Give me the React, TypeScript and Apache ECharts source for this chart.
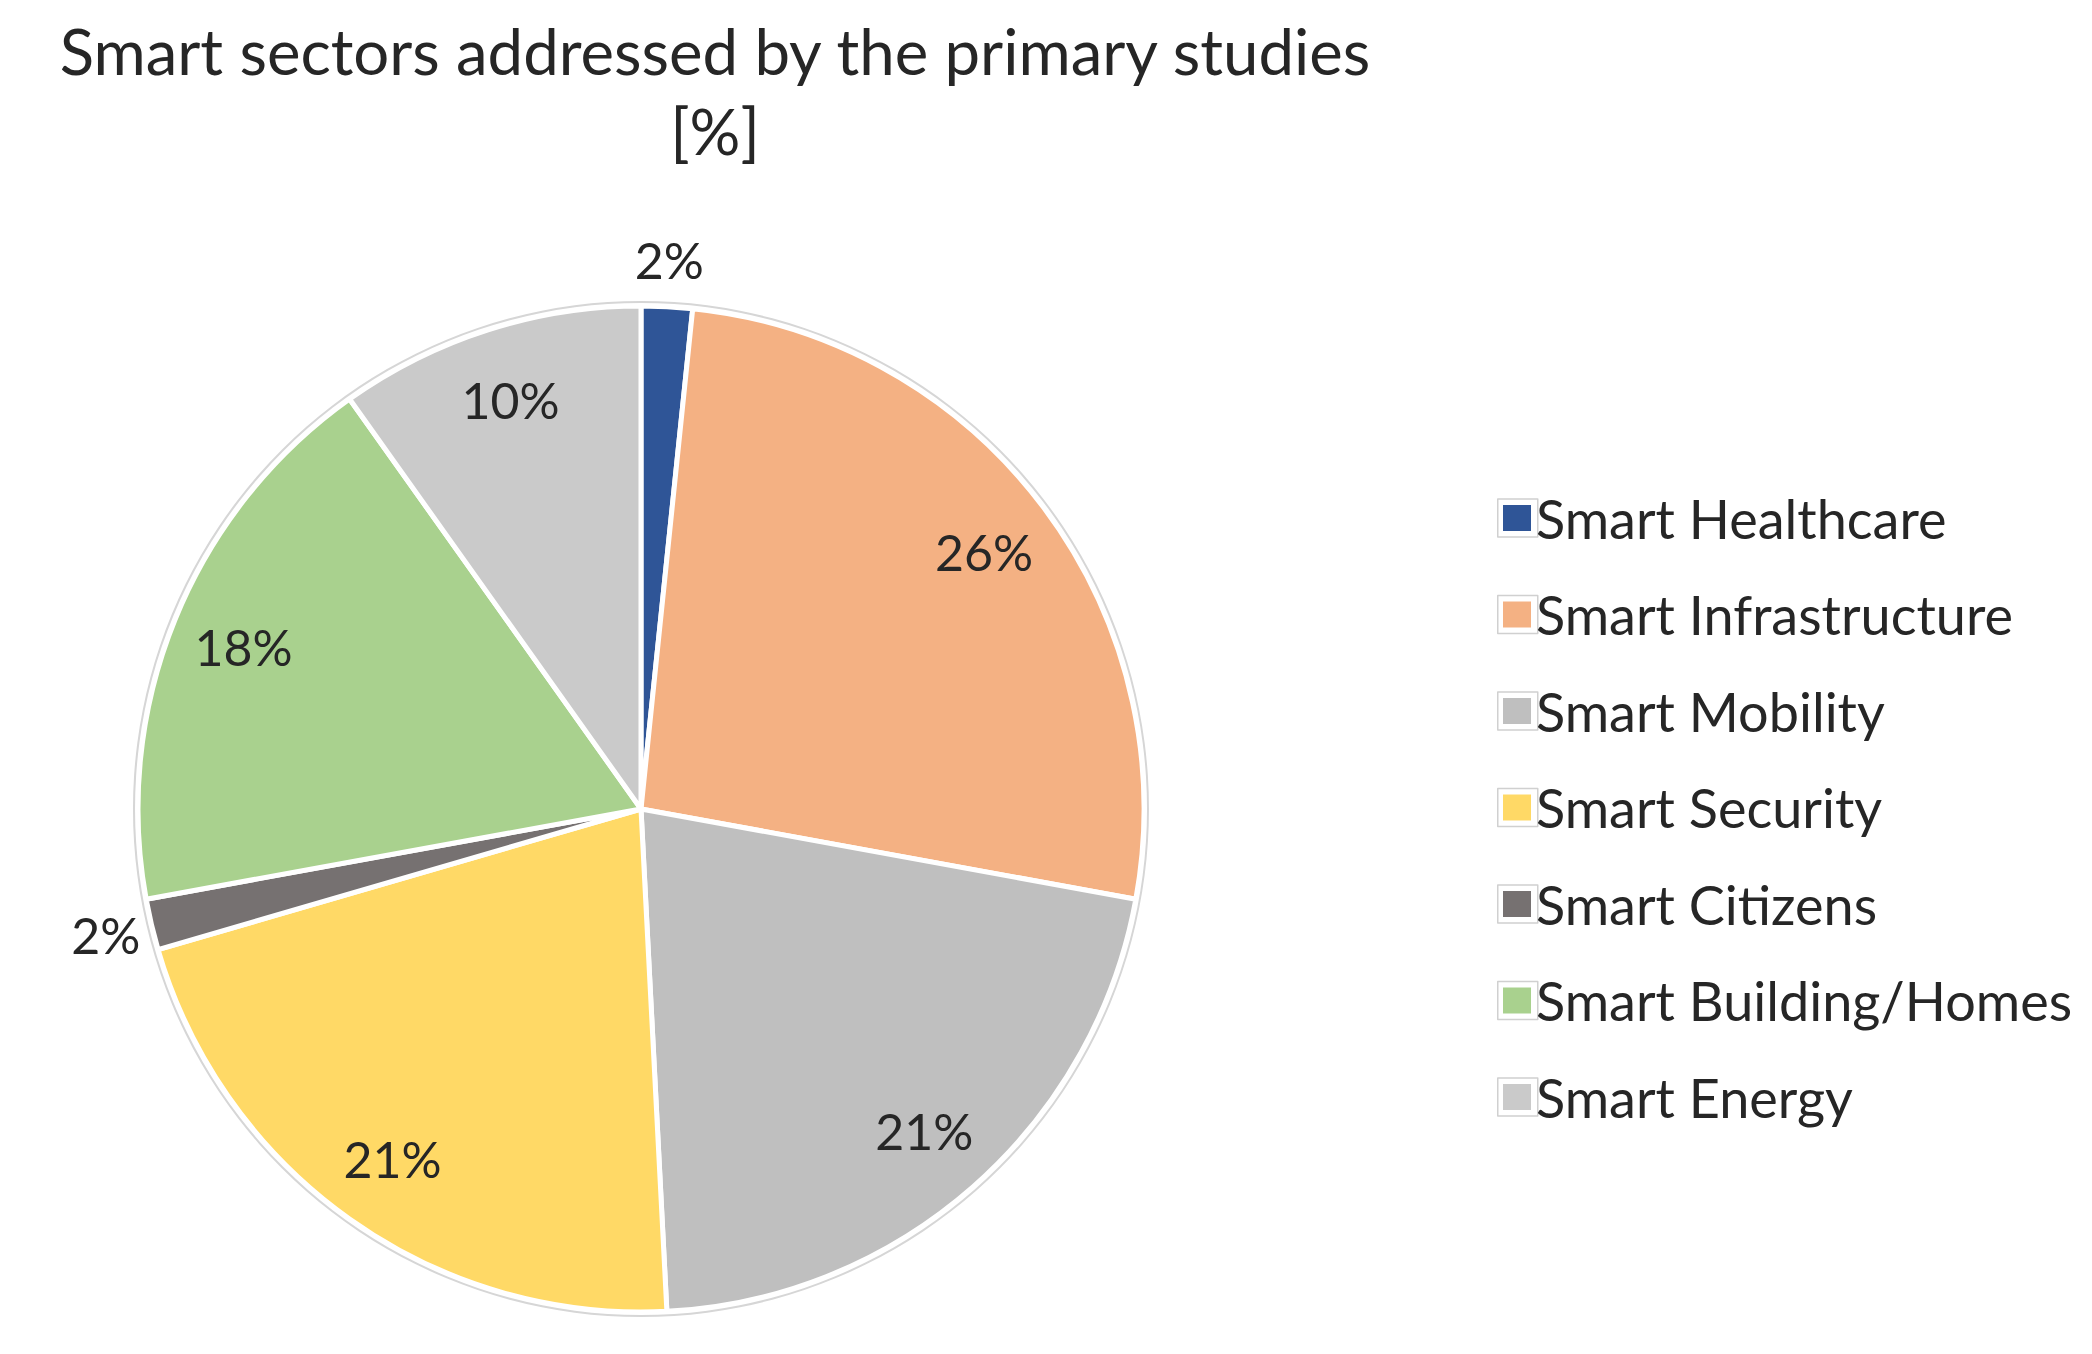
import React, { useEffect, useRef } from "react";
import * as echarts from "echarts";

const chartTitle = "Smart sectors addressed by the primary studies\n[%]";
const categories = [
  "Smart Healthcare",
  "Smart Infrastructure",
  "Smart Mobility",
  "Smart Security",
  "Smart Citizens",
  "Smart Building/Homes",
  "Smart Energy",
];
const studyCounts = [1, 16, 13, 13, 1, 11, 6];
const sliceColors = ["#2F5597", "#F4B183", "#BFBFBF", "#FFD966", "#767171", "#A9D18E", "#CACACA"];
const outsideLabelCategories = ["Smart Healthcare", "Smart Citizens"];

const FONT = "Lato, 'Liberation Sans', sans-serif";
const TEXT_COLOR = "#262626";

export default function App() {
  const ref = useRef<HTMLDivElement>(null);

  useEffect(() => {
    if (!ref.current) return;
    const chart = echarts.init(ref.current, undefined, { renderer: "svg" });

    const center = [633, 801];
    const R = 503;
    const pct = (p: any) => Math.round(p.percent) + "%";
    const labelStyle = {
      formatter: pct,
      fontFamily: FONT,
      fontSize: 50,
      color: TEXT_COLOR,
    };

    const mainData = categories.map((name, i) => ({
      name,
      value: studyCounts[i],
      itemStyle: { color: sliceColors[i] },
    }));

    const overlayData = (outside: boolean) =>
      categories.map((name, i) => ({
        name,
        value: studyCounts[i],
        label: { show: outsideLabelCategories.includes(name) === outside },
      }));

    const overlayBase = {
      type: "pie" as const,
      center,
      startAngle: 90,
      clockwise: true,
      silent: true,
      avoidLabelOverlap: false,
      itemStyle: { color: "rgba(0,0,0,0)", borderWidth: 0 },
      labelLine: { show: false },
      emphasis: { disabled: true },
      tooltip: { show: false },
    };

    const legendText = {
      fontFamily: FONT,
      fontSize: 54,
      lineHeight: 56,
      color: TEXT_COLOR,
    };
    const legendTop = 482;
    const legendGap = 40.5;

    chart.setOption({
      animation: false,
      backgroundColor: "#ffffff",
      title: {
        text: chartTitle,
        left: 707,
        top: 2,
        textAlign: "center",
        padding: 0,
        textStyle: {
          fontFamily: FONT,
          fontSize: 63.5,
          fontWeight: "normal",
          lineHeight: 80,
          color: TEXT_COLOR,
        },
      },
      legend: [
        {
          orient: "vertical",
          left: 1489,
          top: legendTop,
          padding: 0,
          z: 4,
          icon: "rect",
          itemWidth: 40,
          itemHeight: 38,
          itemGap: legendGap,
          itemTextGap: 0,
          selectedMode: false,
          data: categories,
          formatter: () => " ",
          textStyle: legendText,
          itemStyle: { color: "#ffffff", borderColor: "#D0D0D0", borderWidth: 1.5 },
        },
        {
          orient: "vertical",
          left: 1495,
          top: legendTop,
          padding: 0,
          z: 5,
          icon: "rect",
          itemWidth: 28,
          itemHeight: 26,
          itemGap: legendGap,
          itemTextGap: 14,
          selectedMode: false,
          data: categories,
          itemStyle: { borderWidth: 0 },
          textStyle: legendText,
        },
      ],
      series: [
        {
          type: "pie",
          name: "Smart sectors",
          center,
          radius: R,
          startAngle: 90,
          clockwise: true,
          silent: true,
          data: mainData,
          itemStyle: { borderColor: "#ffffff", borderWidth: 5 },
          label: { show: false },
          labelLine: { show: false },
          emphasis: { disabled: true },
        },
        {
          type: "pie",
          name: "outline",
          center,
          radius: [R + 3, R + 5],
          silent: true,
          data: [{ value: 1, name: "outline" }],
          itemStyle: { color: "#D6D6D6" },
          label: { show: false },
          labelLine: { show: false },
          emphasis: { disabled: true },
        },
        {
          ...overlayBase,
          name: "inside labels",
          radius: [0, 852],
          data: overlayData(false),
          label: { ...labelStyle, position: "inside" },
        },
        {
          ...overlayBase,
          name: "outside labels",
          radius: [0, 1094],
          data: overlayData(true),
          label: { ...labelStyle, position: "inside" },
        },
      ],
    });

    return () => chart.dispose();
  }, []);

  return <div ref={ref} style={{ width: 2076, height: 1338 }} />;
}
